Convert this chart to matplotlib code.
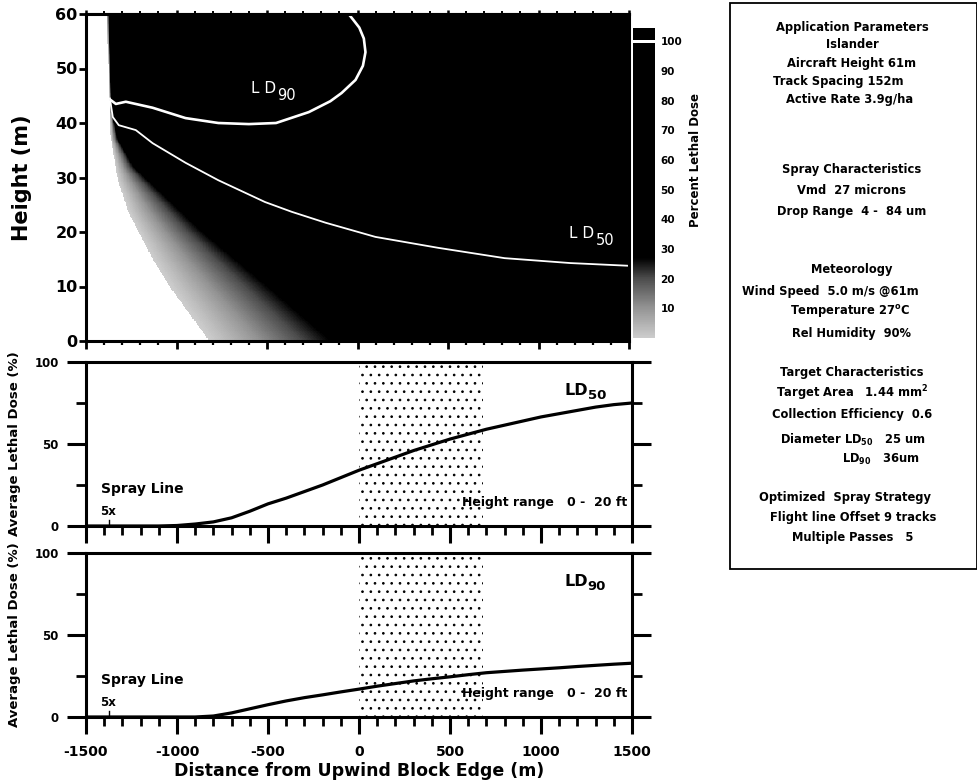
import numpy as np
import matplotlib
matplotlib.use("Agg")
import matplotlib.pyplot as plt
from matplotlib.colors import LinearSegmentedColormap
from matplotlib.patches import Rectangle
from matplotlib.ticker import MultipleLocator

plt.rcParams['font.family'] = ['DejaVu Sans']
plt.rcParams['font.weight'] = 'bold'
plt.rcParams['hatch.linewidth'] = 0.7

# ---------------- data ----------------
# top panel: boundary of the deposit (white region edge) and where dose reaches full black
edge_y = [0, 10, 15, 23.5, 29.5, 37.4, 47.9, 60]
edge_x = [-819, -1038, -1130, -1264, -1324, -1363, -1374, -1385]
black_y = [0, 10, 20, 26, 32, 37, 42, 60]
black_x = [-150, -500, -860, -1050, -1240, -1325, -1358, -1375]

# LD90 contour (closed towards the top)
ld90_x = [-1363, -1335, -1280, -1132, -950, -769, -600, -450, -269, -150, -88, -11, 30, 44, 35, 10, -25, -49]
ld90_y = [44.2, 43.5, 43.9, 42.8, 40.9, 40.0, 39.8, 40.0, 42.0, 44.0, 45.5, 47.9, 50.5, 53, 55.5, 57.5, 59, 60]
# LD50 contour
ld50_x = [-1368, -1352, -1319, -1225, -1132, -950, -769, -511, -363, -176, 99, 445, 813, 1176, 1500]
ld50_y = [44.5, 41.1, 39.6, 38.7, 36.3, 32.7, 29.5, 25.5, 23.7, 21.7, 19.1, 17.1, 15.2, 14.3, 13.8]

# average lethal dose profiles
dist = [-1500, -1100, -1000, -900, -800, -700, -600, -500, -400, -300, -200, -100, 0,
        100, 200, 300, 400, 500, 600, 700, 800, 900, 1000, 1100, 1200, 1300, 1400, 1500]
avg_ld50 = [0, 0, 0.3, 1.2, 2.5, 5, 9, 13.5, 17, 21, 25, 29.5, 34,
            38, 42, 46, 49.5, 53, 56, 59, 61.5, 64, 66.5, 68.5, 70.5, 72.5, 74, 75]
avg_ld90 = [0, 0, 0, 0, 0.6, 2.5, 5, 7.5, 9.8, 11.8, 13.5, 15.3, 17,
            18.8, 20.4, 22, 23.3, 24.5, 25.8, 27, 27.8, 28.6, 29.3, 30, 30.8, 31.5, 32.2, 32.8]

block_start, block_end = 0, 680     # dotted target block
spray_line_x = -1375

x_ticks = [-1500, -1000, -500, 0, 500, 1000, 1500]
h_ticks = [0, 10, 20, 30, 40, 50, 60]
pct_ticks = [0, 50, 100]
cbar_ticks = [10, 20, 30, 40, 50, 60, 70, 80, 90, 100]

info_lines = [
    "Application Parameters", "Islander", "Aircraft Height 61m", "Track Spacing 152m",
    "Active Rate 3.9g/ha",
    "Spray Characteristics", "Vmd  27 microns", "Drop Range  4 -  84 um",
    "Meteorology", "Wind Speed  5.0 m/s @61m", r"Temperature $\mathregular{27^oC}$",
    "Rel Humidity  90%",
    "Target Characteristics", r"Target Area   1.44 $\mathregular{mm^2}$",
    "Collection Efficiency  0.6", r"Diameter $\mathregular{LD_{50}}$   25 um",
    r"$\mathregular{LD_{90}}$   36um",
    "Optimized  Spray Strategy", "Flight line Offset 9 tracks", "Multiple Passes   5",
]

# ---------------- figure ----------------
W, H = 978, 783
fig = plt.figure(figsize=(W / 100, H / 100), dpi=100)


def ax_rect(l, t, r, b):
    return [l / W, 1 - b / H, (r - l) / W, (b - t) / H]


ax_top = fig.add_axes(ax_rect(86, 14, 629, 341))
ax_mid = fig.add_axes(ax_rect(86, 362, 632, 526))
ax_bot = fig.add_axes(ax_rect(86, 553, 632, 717))
cax = fig.add_axes(ax_rect(633, 28, 655, 338))

cmap = LinearSegmentedColormap.from_list(
    "dose", [(0, (0.8, 0.8, 0.8)), (0.1, (0.58, 0.58, 0.58)), (0.2, (0.3, 0.3, 0.3)),
             (0.27, (0, 0, 0)), (1, (0, 0, 0))])
cmap.set_bad("white")

# dose field built from the read boundaries
xg = np.linspace(-1500, 1500, 901)
yg = np.linspace(0, 60, 361)
X, Y = np.meshgrid(xg, yg)
E = np.interp(Y, edge_y, edge_x)
B = np.interp(Y, black_y, black_x)
T = (X - E) / (B - E)
dose = np.where(T < 0, np.nan, np.where(T < 1, 27 * np.clip(T, 0, 1) ** 1.1, 100))
ax_top.pcolormesh(xg, yg, dose, cmap=cmap, vmin=0, vmax=100, shading="auto", rasterized=True)

ax_top.plot(ld90_x, ld90_y, color="white", lw=1.9)
ax_top.plot(ld50_x, ld50_y, color="white", lw=1.3)


def ld_label(ax, x, y, sub, color, size, weight, dx, dy, subsize):
    ax.text(x, y, "L D" if weight == "normal" else "LD", color=color, fontsize=size,
            fontweight=weight, ha="left", va="baseline")
    ax.annotate(sub, xy=(x, y), xytext=(dx, dy), textcoords="offset points", color=color,
                fontsize=subsize, fontweight=weight, ha="left", va="baseline")


ld_label(ax_top, -590, 45.5, "90", "white", 11, "normal", 19, -5, 10.5)
ld_label(ax_top, 1170, 18.9, "50", "white", 11, "normal", 19, -5, 10.5)

ax_top.set_xlim(-1500, 1500)
ax_top.set_ylim(0, 60)
ax_top.set_xticks(x_ticks)
ax_top.xaxis.set_minor_locator(MultipleLocator(100))
ax_top.tick_params(axis="x", which="major", direction="out", length=6, width=2, labelbottom=False)
ax_top.tick_params(axis="x", which="minor", direction="out", length=3, width=1.6)
sec = ax_top.secondary_xaxis("top")
sec.set_xticks(x_ticks)
sec.xaxis.set_minor_locator(MultipleLocator(100))
sec.tick_params(axis="x", which="major", direction="out", length=3, width=1.8, labeltop=False)
sec.tick_params(axis="x", which="minor", direction="out", length=2, width=1.4)
sec.spines["top"].set_linewidth(2.2)
ax_top.set_yticks(h_ticks)
ax_top.set_yticklabels([str(v) for v in h_ticks])
ax_top.tick_params(axis="y", direction="out", length=5, width=2, pad=1, labelsize=11.5)
for s in ax_top.spines.values():
    s.set_linewidth(2.2)

# colorbar
grad = np.linspace(0, 100, 400)[:, None]
cax.imshow(grad, aspect="auto", origin="lower", extent=(0, 1, 0, 99.3), cmap=cmap,
           vmin=0, vmax=100, interpolation="bilinear")
cax.add_patch(Rectangle((0, 100.3), 1, 4.2, color="black", lw=0))
cax.set_xlim(0, 1)
cax.set_ylim(0, 104.5)
cax.set_xticks([])
cax.yaxis.tick_right()
cax.set_yticks(cbar_ticks)
cax.set_yticklabels([str(v) for v in cbar_ticks])
cax.tick_params(axis="y", length=0, pad=4, labelsize=7.5)
for s in cax.spines.values():
    s.set_visible(False)
fig.text(696 / W, 1 - 160 / H, "Percent Lethal Dose", rotation=90, ha="center", va="center",
         fontsize=8.5, fontweight="bold")

fig.text(22 / W, 1 - 178 / H, "Height (m)", rotation=90, ha="center", va="center",
         fontsize=15, fontweight="bold")

# profile panels
for ax, prof, sub, last in [(ax_mid, avg_ld50, "50", False), (ax_bot, avg_ld90, "90", True)]:
    ax.axvspan(block_start, block_end, facecolor="none", edgecolor="black", hatch="..", lw=0)
    ax.plot(dist, prof, color="black", lw=2.3, solid_capstyle="round")
    ax.plot([spray_line_x, spray_line_x], [0, 3.5], color="black", lw=1)
    ax.text(-1420, 20, "Spray Line", fontsize=10, fontweight="bold", ha="left", va="baseline")
    ax.text(-1420, 6.5, "5x", fontsize=8.5, fontweight="bold", ha="left", va="baseline")
    ax.text(1475, 12, "Height range   0 -  20 ft", fontsize=9, fontweight="bold",
            ha="right", va="baseline")
    ld_label(ax, 1130, 80, sub, "black", 11.5, "bold", 16.5, -3, 9.5)
    ax.set_xlim(-1500, 1500)
    ax.set_ylim(0, 100)
    ax.set_xticks(x_ticks)
    ax.xaxis.set_minor_locator(MultipleLocator(100))
    ax.tick_params(axis="x", which="major", direction="out", length=12, width=2.2,
                   labelbottom=last, pad=8, labelsize=10)
    ax.tick_params(axis="x", which="minor", direction="out", length=6.5, width=2)
    ax.set_yticks(pct_ticks)
    ax.set_yticklabels([str(v) for v in pct_ticks])
    ax.yaxis.set_minor_locator(MultipleLocator(25))
    ax.tick_params(axis="y", which="major", direction="out", length=13.5, width=2.2,
                   left=True, right=True, pad=6, labelsize=8.5)
    ax.tick_params(axis="y", which="minor", direction="out", length=7, width=2,
                   left=True, right=True)
    for s in ax.spines.values():
        s.set_linewidth(2.2)
    pos = ax.get_position()
    fig.text(15 / W, (pos.y0 + pos.y1) / 2, "Average Lethal Dose (%)", rotation=90, ha="center",
             va="center", fontsize=9.5, fontweight="bold")

ax_bot.set_xticklabels([str(v) for v in x_ticks])
ax_bot.set_xlabel("Distance from Upwind Block Edge (m)", fontsize=12.5, fontweight="bold",
                  labelpad=2)

# info box
fig.patches.append(Rectangle((730 / W, 1 - 569 / H), 247 / W, 566 / H, transform=fig.transFigure,
                             fill=False, lw=1.3, edgecolor="black"))
line_y = [27, 45, 64, 82, 100, 169, 190, 211, 270, 291, 312, 333, 373, 393, 415, 440, 459,
          497, 517, 537]
line_x = [852, 852, 852, 838, 850, 852, 852, 852, 852, 830, 850, 852, 852, 852, 852, 853, 842,
          845, 853, 853]
for i, (txt, yy, xx) in enumerate(zip(info_lines, line_y, line_x)):
    ha = "left" if i == 16 else "center"
    fig.text(xx / W, 1 - yy / H, txt, ha=ha, va="center", fontsize=8.3, fontweight="bold")

fig.savefig("out.png", dpi=100)
